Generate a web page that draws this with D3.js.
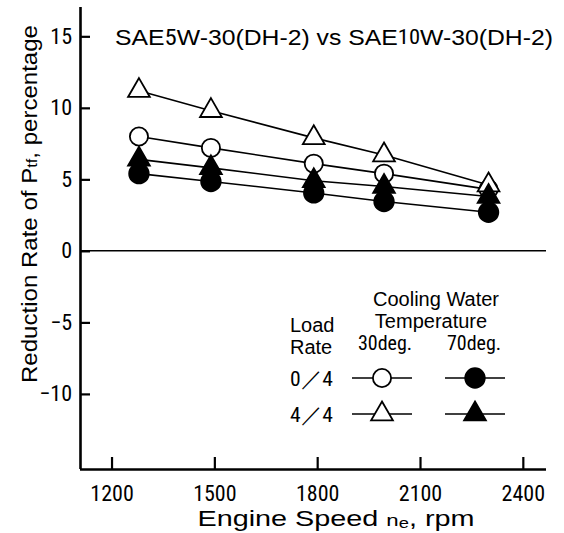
<!DOCTYPE html>
<html><head><meta charset="utf-8">
<script src="https://cdn.jsdelivr.net/npm/d3@7"></script>
<style>
body{margin:0;background:#fff}
svg{display:block}
.sans{font-family:"Liberation Sans",Arial,Helvetica,sans-serif}
.narrow{font-family:"Liberation Sans Narrow","Roboto Condensed","DejaVu Sans Condensed","Liberation Sans",sans-serif}
</style>
</head><body>
<svg id="c" width="564" height="533"></svg>
<script>
// ---- data ----
const speeds = [1280, 1490, 1790, 1995, 2300];
const load0_30 = [8.0, 7.2, 6.1, 5.4, 4.3];     // 0/4, 30deg (open circle)
const load4_30 = [11.2, 9.8, 7.9, 6.7, 4.6];    // 4/4, 30deg (open triangle)
const load0_70 = [5.4, 4.85, 4.05, 3.45, 2.7];  // 0/4, 70deg (filled circle)
const load4_70 = [6.4, 5.8, 4.9, 4.5, 3.8];     // 4/4, 70deg (filled triangle)
const xTicks = [1200, 1500, 1800, 2100, 2400];
const xTickLabels = ["1200", "1500", "1800", "2100", "2400"];
const yTicks = [-10, -5, 0, 5, 10, 15];
const yTickLabels = ["\u221210", "\u22125", "0", "5", "10", "15"];

const svg = d3.select("#c");
const x = d3.scaleLinear().domain([1108, 2467.6]).range([80, 546]);
const y = d3.scaleLinear().domain([-15.25, 17.05]).range([469, 7]);

const series = [
  {vals: load0_30, shape: d3.symbolCircle, size: 260, fill: "#fff"},
  {vals: load4_30, shape: d3.symbolTriangle, size: 205, fill: "#fff"},
  {vals: load0_70, shape: d3.symbolCircle, size: 300, fill: "#000"},
  {vals: load4_70, shape: d3.symbolTriangle, size: 205, fill: "#000"}
];

// zero line
svg.append("line").attr("x1", x.range()[0]).attr("x2", x.range()[1])
  .attr("y1", y(0)).attr("y2", y(0)).attr("stroke", "#000").attr("stroke-width", 1.5);

// axes
const yAxis = svg.append("g").attr("transform", `translate(${x.range()[0]},0)`)
  .call(d3.axisLeft(y).tickValues(yTicks).tickFormat((d, i) => yTickLabels[i])
    .tickSizeInner(-10).tickSizeOuter(0).tickPadding(8));
const xAxis = svg.append("g").attr("transform", `translate(0,${y.range()[0]})`)
  .call(d3.axisBottom(x).tickValues(xTicks).tickFormat((d, i) => xTickLabels[i])
    .tickSizeInner(-12).tickSizeOuter(0).tickPadding(16));
[yAxis, xAxis].forEach(a => {
  a.select(".domain").attr("stroke", "#000").attr("stroke-width", 2.6);
  a.selectAll(".tick line").attr("stroke", "#000").attr("stroke-width", 2.2);
  a.selectAll(".tick text").attr("class", "narrow").attr("font-size", 22).attr("fill", "#000");
});
yAxis.select(".domain").attr("d", `M0.5,${y.range()[1]}V${y.range()[0]}`);
xAxis.select(".domain").attr("d", `M${x.range()[0]},0.5H${x.range()[1]}`);

// lines
const line = d3.line().x((d, i) => x(speeds[i])).y(d => y(d));
series.forEach(s => {
  svg.append("path").attr("d", line(s.vals)).attr("fill", "none")
    .attr("stroke", "#000").attr("stroke-width", 1.6);
});
// markers
series.forEach(s => {
  svg.append("g").selectAll("path").data(s.vals).join("path")
    .attr("transform", (d, i) => `translate(${x(speeds[i])},${y(d)})`)
    .attr("d", d3.symbol().type(s.shape).size(s.size))
    .attr("fill", s.fill).attr("stroke", "#000").attr("stroke-width", 1.8);
});

// title
const title = svg.append("text").attr("class", "sans").attr("x", 115).attr("y", 45)
  .attr("font-size", 22).attr("textLength", 438).attr("lengthAdjust", "spacingAndGlyphs");
title.append("tspan").text("SAE");
title.append("tspan").attr("class", "narrow").text("5");
title.append("tspan").text("W-30(DH-2) vs SAE");
title.append("tspan").attr("class", "narrow").attr("font-size", 20).attr("dy", -1).text("10");
title.append("tspan").attr("dy", 1).text("W-30(DH-2)");

// y label
const yl = svg.append("text").attr("class", "sans").attr("font-size", 22)
  .attr("transform", "translate(37,204) rotate(-90)").attr("text-anchor", "middle")
  .attr("textLength", 358).attr("lengthAdjust", "spacingAndGlyphs");
yl.append("tspan").text("Reduction Rate of P");
yl.append("tspan").attr("font-size", 15).text("tf");
yl.append("tspan").text(", percentage");

// x label
const xl = svg.append("text").attr("class", "sans").attr("font-size", 22)
  .attr("x", 336).attr("y", 526).attr("text-anchor", "middle")
  .attr("textLength", 277).attr("lengthAdjust", "spacingAndGlyphs");
xl.append("tspan").text("Engine Speed ");
xl.append("tspan").attr("font-size", 17).text("n");
xl.append("tspan").attr("font-size", 14).attr("dy", 2).text("e");
xl.append("tspan").attr("dy", -2).text(", rpm");

// legend
const lg = svg.append("g").attr("class", "sans").attr("font-size", 20);
lg.append("text").attr("x", 436).attr("y", 306).attr("text-anchor", "middle").text("Cooling Water");
lg.append("text").attr("x", 431).attr("y", 328).attr("text-anchor", "middle").text("Temperature");
lg.append("text").attr("x", 290).attr("y", 332).text("Load");
lg.append("text").attr("x", 290).attr("y", 354).text("Rate");
lg.append("text").attr("class", "narrow").attr("x", 385).attr("y", 350).attr("text-anchor", "middle").text("30deg.");
lg.append("text").attr("class", "narrow").attr("x", 474).attr("y", 350).attr("text-anchor", "middle").text("70deg.");
const rows = [
  {label: "0\uFF0F4", y: 378, open: series[0], filled: series[2]},
  {label: "4\uFF0F4", y: 414, open: series[1], filled: series[3]}
];
rows.forEach(r => {
  lg.append("text").attr("class", "narrow").attr("x", 290).attr("y", r.y + 8).attr("font-size", 21)
    .attr("textLength", 43).attr("lengthAdjust", "spacingAndGlyphs").text(r.label);
  [[r.open, 382], [r.filled, 475]].forEach(([s, cx]) => {
    lg.append("line").attr("x1", cx - 30).attr("x2", cx + 30).attr("y1", r.y).attr("y2", r.y)
      .attr("stroke", "#000").attr("stroke-width", 1.6);
    lg.append("path").attr("transform", `translate(${cx},${r.y})`)
      .attr("d", d3.symbol().type(s.shape).size(s.size))
      .attr("fill", s.fill).attr("stroke", "#000").attr("stroke-width", 1.8);
  });
});
</script>
</body></html>
